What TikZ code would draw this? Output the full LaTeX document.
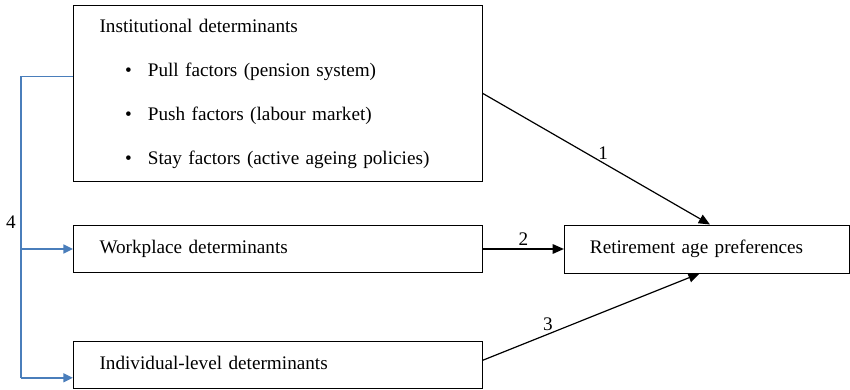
\documentclass[tikz,border=0pt]{standalone}
\usepackage{fontspec}
\setmainfont{Liberation Serif}
\usepackage{xcolor}
\usepackage{tikz}
\usetikzlibrary{calc, arrows.meta, positioning}
\definecolor{LinkBlue}{RGB}{74, 126, 187}

\begin{document}
\begin{tikzpicture}[
          x=0.625pt, y=-0.625pt,
          node distance=26.9pt,
          box/.style={rectangle, draw=black, line width=0.6pt, text width=223pt, inner xsep=16.3pt, align=left, font=\fontsize{12}{14}\selectfont},
          goalbox/.style={rectangle, draw=black, line width=0.6pt, minimum width=178pt, minimum height=30pt, text width=146pt, inner xsep=16pt, align=left, font=\fontsize{12}{14}\selectfont},
          effect/.style={-{Triangle[length=7pt, width=6pt]}, line width=0.75pt},
          feedback/.style={-{Triangle[length=6pt, width=5.5pt]}, draw=LinkBlue, line width=1.2pt},
          num/.style={font=\fontsize{12}{14}\selectfont, inner sep=2pt}
        ]
          \useasboundingbox (0,0) rectangle (850,389);

          \node[box, anchor=north west, minimum height=110pt, font=\fontsize{12}{27.5}\selectfont] (inst) at (73,5)
            {Institutional determinants\\
             \hspace*{16pt}\textbullet\hspace{10pt}Pull factors (pension system)\\
             \hspace*{16pt}\textbullet\hspace{10pt}Push factors (labour market)\\
             \hspace*{16pt}\textbullet\hspace{10pt}Stay factors (active ageing policies)};
          \node[box, minimum height=29.4pt, below=of inst] (work) {Workplace determinants\vphantom{g}};
          \node[box, minimum height=29.4pt, below=42.5pt of work] (indiv) {Individual-level determinants\vphantom{g}};
          \node[goalbox, right=50.6pt of work] (pref) {Retirement age preferences};

          % direct effects
          \draw[effect] (inst.east) -- node[num, pos=0.53, above] {1} ($(pref.north)+(2pt,0)$);
          \draw[effect] (work) -- node[num, above] {2} (pref);
          \draw[effect] ($(indiv.east)+(0,3pt)$) -- node[num, pos=0.3, above] {3} ($(pref.south)+(-4.5pt,0)$);

          % institutions acting through the other levels
          \coordinate (src) at ($(inst.west)+(0,10.6pt)$);
          \coordinate (bend) at ($(src)+(-32.5pt,0)$);
          \coordinate (low) at (bend |- {$(indiv.west)+(0,-8pt)$});
          \draw[draw=LinkBlue, line width=1.2pt] (src) -- (bend) -- (low);
          \draw[feedback] (bend |- work.west) -- (work.west);
          \draw[feedback] (low) -- ($(indiv.west)+(0,-8pt)$);
          \node[num] (four) at (11,222) {4};
        \end{tikzpicture}
\end{document}
